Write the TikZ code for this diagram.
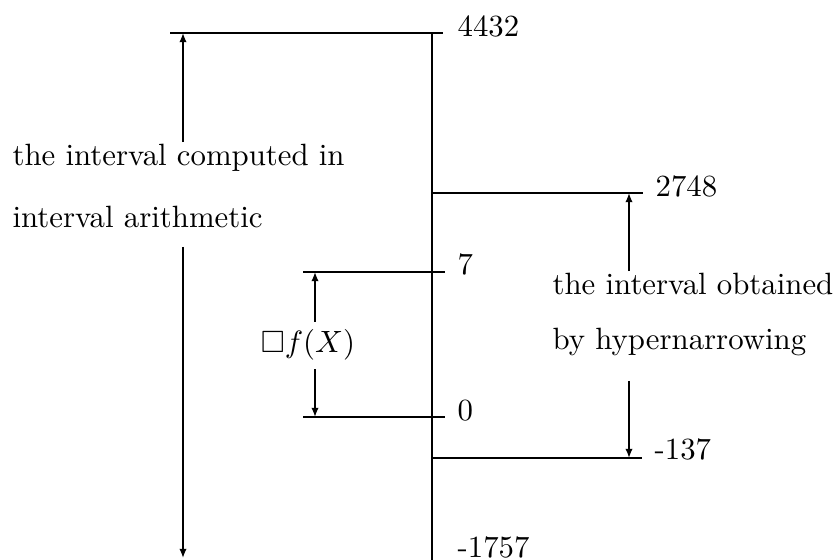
\documentclass[tikz,border=0pt]{standalone}
\usepackage{amsmath,amssymb}
\usetikzlibrary{arrows.meta,calc}

\begin{document}
\begin{tikzpicture}[x=0.01141cm,y=-0.01141cm,
    tick/.style={line width=0.6pt},
    num/.style={anchor=base west,inner sep=0pt},
    txt/.style={anchor=base west,inner sep=0pt},
    arr/.style={line width=0.5pt,-{Latex[length=3pt,width=2.4pt]}}]
    \useasboundingbox (0,0) rectangle (837,560);
    % the axis and its ticks
    \coordinate (axtop) at (432,33);
    \coordinate (axbot) at (432,560);
    \draw[tick] (axtop) -- (axbot);
    \coordinate (hi) at (170,33);   \coordinate (hiend) at (443,33);
    \coordinate (nhi) at (432,193); \coordinate (nhiend) at (643,193);
    \coordinate (fhi) at (303,272); \coordinate (fhiend) at (445,272);
    \coordinate (flo) at (303,417); \coordinate (floend) at (445,417);
    \coordinate (nlo) at (432,458); \coordinate (nloend) at (642,458);
    \draw[tick] (hi) -- (hiend);
    \draw[tick] (nhi) -- (nhiend);
    \draw[tick] (fhi) -- (fhiend);
    \draw[tick] (flo) -- (floend);
    \draw[tick] (nlo) -- (nloend);
    \node[num] (v4432) at ($(hiend)+(14,4)$) {4432};
    \node[num] (v2748) at ($(nhiend)+(12,4)$) {2748};
    \node[num] (v7) at ($(fhiend)+(12,3)$) {7};
    \node[num] (v0) at ($(floend)+(12,4)$) {0};
    \node[num] (v137) at ($(nloend)+(12,2)$) {-137};
    \node[num] (v1757) at (457,558) {-1757};
    % labels
    \node[txt] (ia1) at (12,166) {the interval computed in};
    \node[txt] (ia2) at (12,228) {interval arithmetic};
    \node[txt] (hn1) at (552,295) {the interval obtained};
    \node[txt] (hn2) at (552,350) {by hypernarrowing};
    \node[anchor=base,inner sep=2.5pt] (bf) at (308,353) {$\Box f(X)$};
    % arrows
    \coordinate (ia) at (183,0);
    \coordinate (hn) at (629,0);
    \coordinate (fx) at (315,0);
    \coordinate (ialow) at (183,558);
    \draw[arr] ($(ia1.north -| ia)+(0,-2)$) -- (hi -| ia);
    \draw[arr] ($(ia2.south -| ia)+(0,18)$) -- (ialow);
    \draw[arr] ($(hn1.north -| hn)+(0,-2)$) -- (nhi -| hn);
    \draw[arr] ($(hn2.south -| hn)+(0,24)$) -- (nlo -| hn);
    \draw[arr] (bf.north -| fx) -- (fhi -| fx);
    \draw[arr] (bf.south -| fx) -- (flo -| fx);
\end{tikzpicture}
\end{document}
